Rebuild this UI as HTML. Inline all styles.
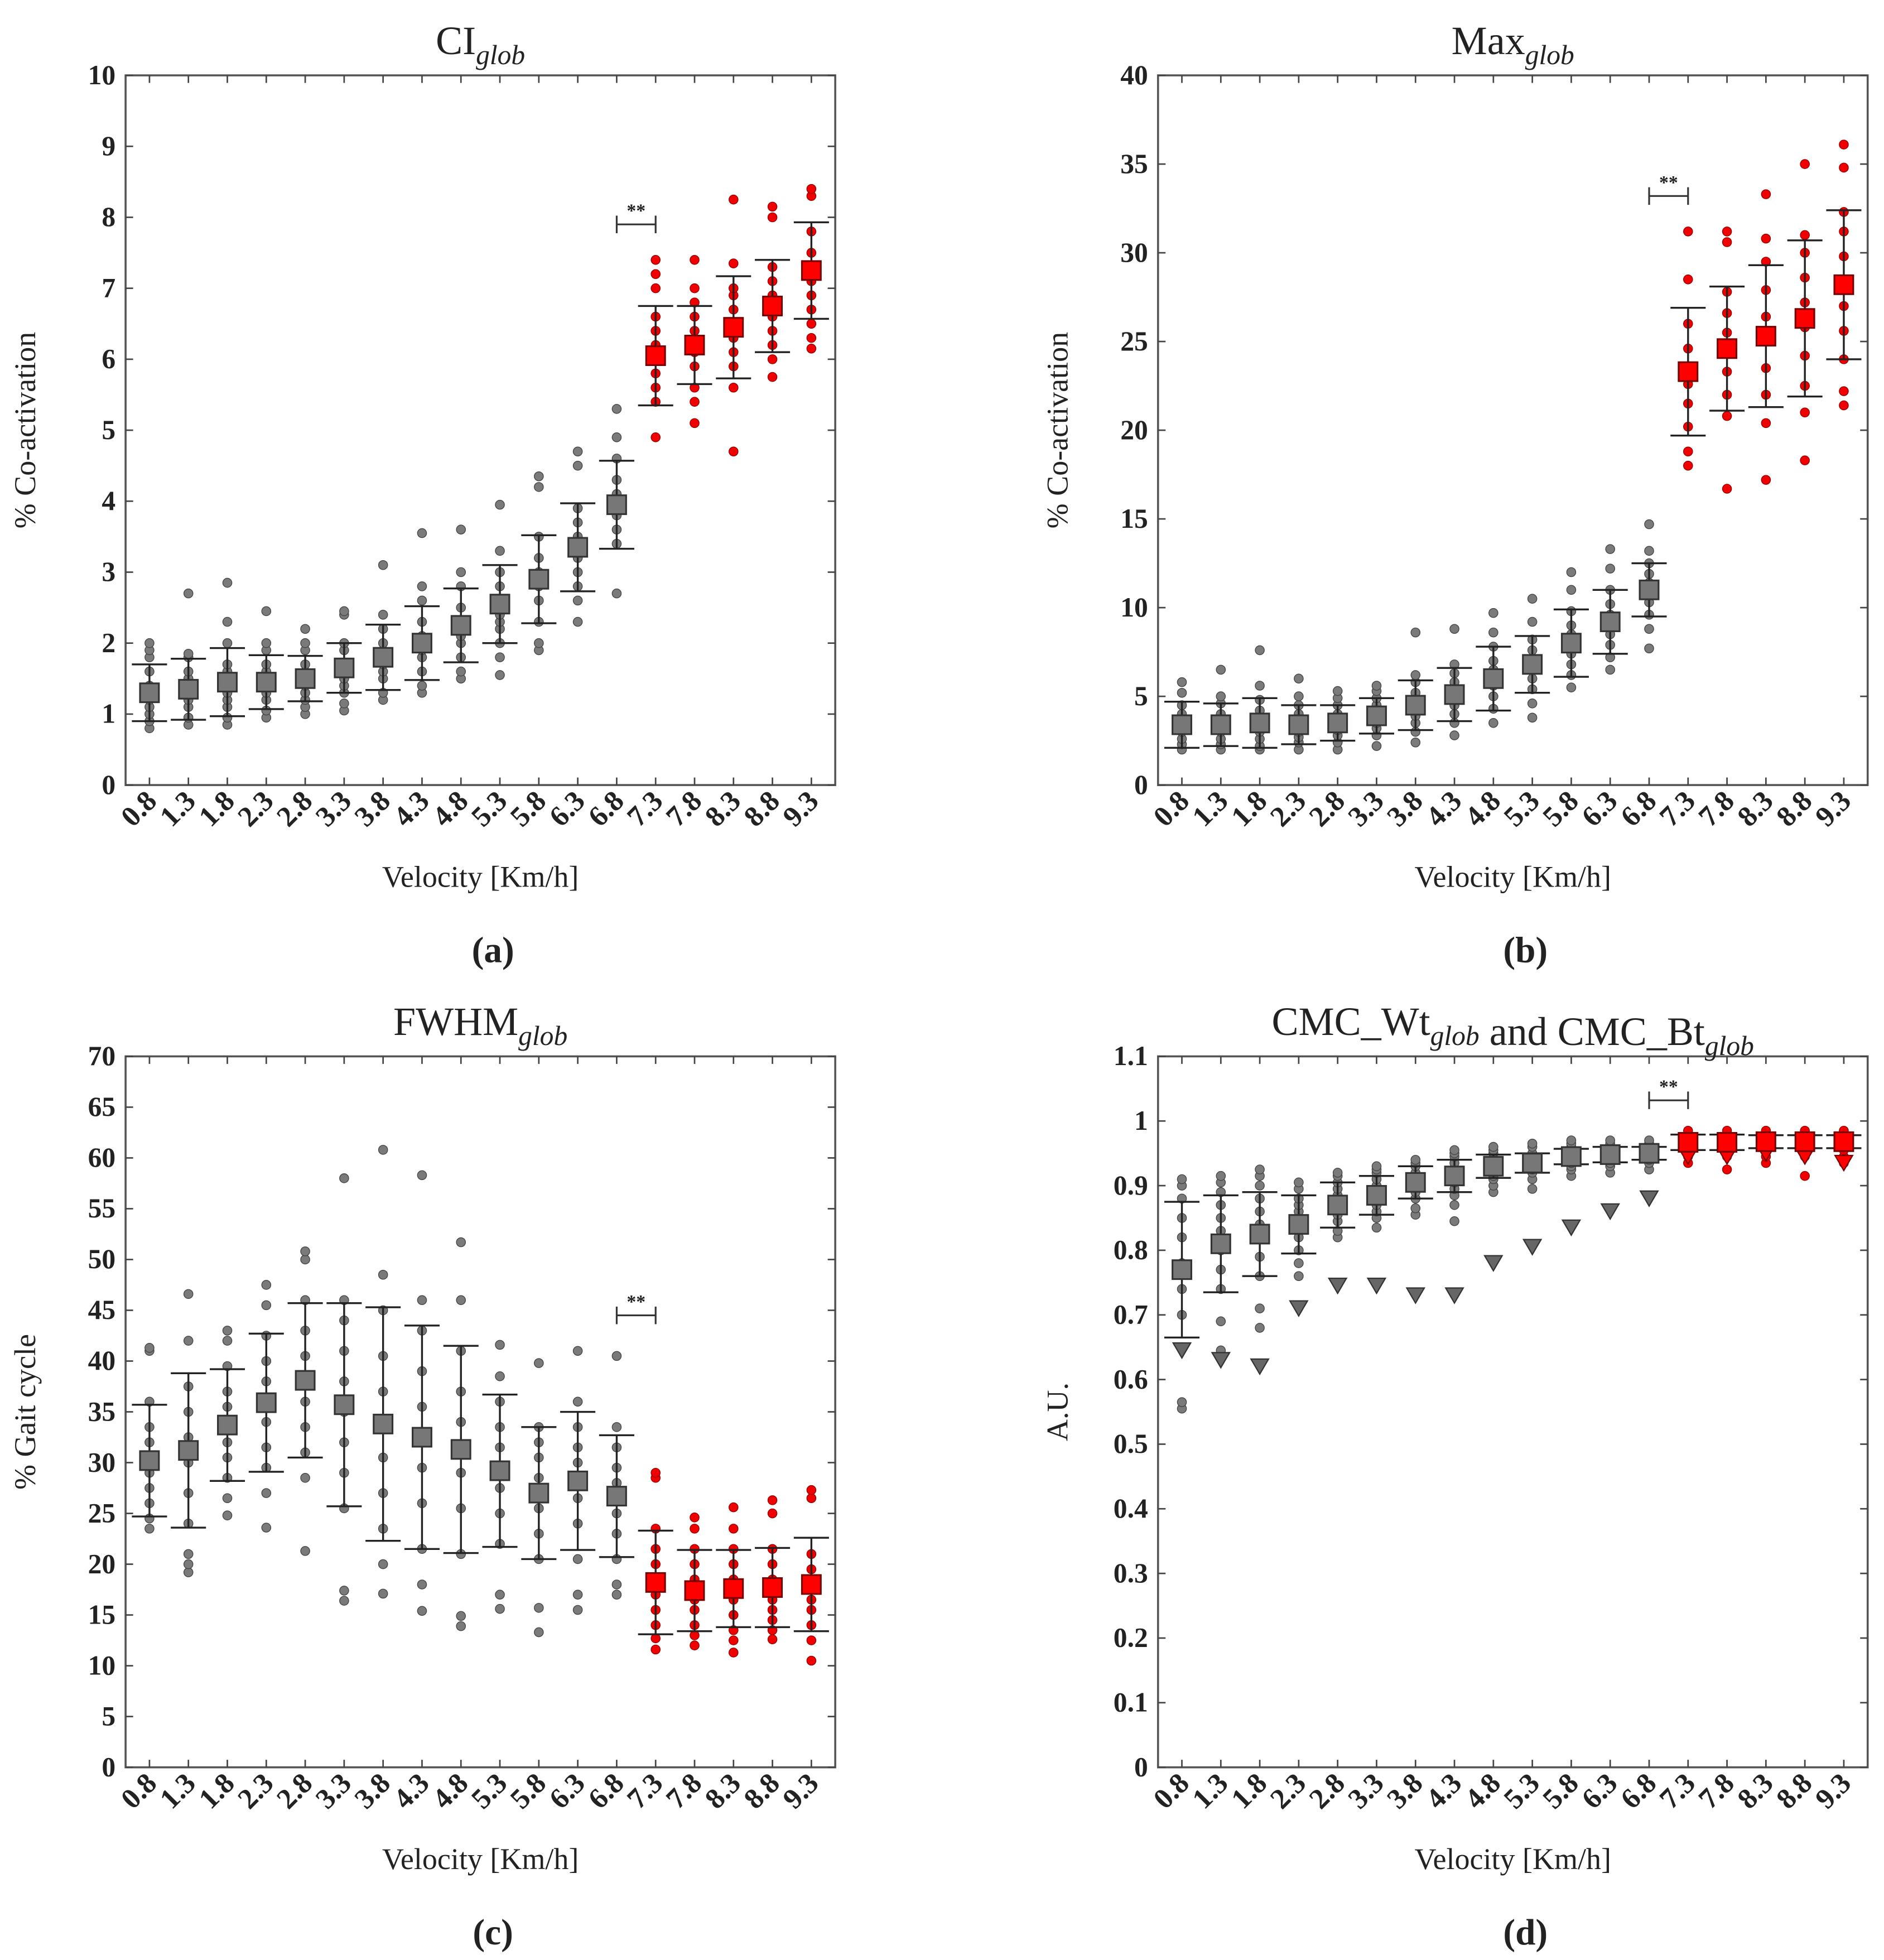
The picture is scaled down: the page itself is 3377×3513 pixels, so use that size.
<!DOCTYPE html>
<html><head><meta charset="utf-8"><style>html,body{margin:0;padding:0;background:#fff}svg{display:block}text{font-family:"Liberation Serif",serif;fill:#222}</style></head>
<body>
<svg id="fig" xmlns="http://www.w3.org/2000/svg" width="3377" height="3513" viewBox="0 0 1500 1560.4" preserveAspectRatio="none"></svg>
<script>
const cats=["0.8","1.3","1.8","2.3","2.8","3.3","3.8","4.3","4.8","5.3","5.8","6.3","6.8","7.3","7.8","8.3","8.8","9.3"];
const aMean=[1.3,1.35,1.45,1.45,1.5,1.65,1.8,2.0,2.25,2.55,2.9,3.35,3.95,6.05,6.2,6.45,6.75,7.25];
const aSd=[0.4,0.43,0.48,0.38,0.32,0.35,0.46,0.52,0.52,0.55,0.62,0.62,0.62,0.7,0.55,0.72,0.65,0.68];
const aPts=[[0.8,0.9,1.0,1.1,1.2,1.3,1.4,1.6,1.8,1.9,2.0],[0.85,0.95,1.1,1.2,1.3,1.4,1.5,1.6,1.8,1.85,2.7],[0.85,0.95,1.1,1.2,1.3,1.4,1.6,1.7,2.0,2.3,2.85],[0.95,1.05,1.2,1.3,1.4,1.5,1.6,1.7,1.9,2.0,2.45],[1.0,1.1,1.2,1.3,1.4,1.5,1.6,1.7,1.9,2.0,2.2],[1.05,1.15,1.3,1.4,1.5,1.6,1.7,1.9,2.0,2.4,2.45],[1.2,1.3,1.5,1.6,1.7,1.8,1.9,2.0,2.2,2.4,3.1],[1.3,1.4,1.6,1.8,1.9,2.0,2.1,2.3,2.6,2.8,3.55],[1.5,1.6,1.8,2.0,2.1,2.2,2.3,2.5,2.8,3.0,3.6],[1.55,1.8,2.0,2.2,2.3,2.4,2.6,2.8,3.0,3.3,3.95],[1.9,2.0,2.3,2.6,2.8,2.9,3.0,3.2,3.5,4.2,4.35],[2.3,2.6,2.8,3.0,3.2,3.3,3.5,3.7,3.9,4.5,4.7],[2.7,3.4,3.6,3.8,3.9,4.0,4.1,4.3,4.6,4.9,5.3],[4.9,5.4,5.6,5.8,6.0,6.2,6.4,6.6,7.0,7.2,7.4],[5.1,5.4,5.6,5.9,6.1,6.2,6.4,6.6,6.8,7.0,7.4],[4.7,5.6,5.9,6.1,6.3,6.5,6.7,6.9,7.0,7.35,8.25],[5.75,6.0,6.2,6.4,6.6,6.7,6.9,7.1,7.3,8.0,8.15],[6.15,6.3,6.5,6.7,6.9,7.1,7.3,7.5,7.8,8.3,8.4]];
const bMean=[3.4,3.4,3.5,3.4,3.5,3.9,4.5,5.1,6.0,6.8,8.0,9.2,11.0,23.3,24.6,25.3,26.3,28.2];
const bSd=[1.3,1.2,1.4,1.1,1.0,1.0,1.4,1.5,1.8,1.6,1.9,1.8,1.5,3.6,3.5,4.0,4.4,4.2];
const bPts=[[2.0,2.3,2.6,3.0,3.3,3.6,4.0,4.5,5.2,5.8],[2.0,2.3,2.6,3.0,3.3,3.6,4.0,4.6,5.0,6.5],[2.0,2.2,2.6,3.0,3.4,3.8,4.2,4.8,5.6,7.6],[2.0,2.4,2.7,3.0,3.3,3.6,4.0,4.5,5.0,6.0],[2.0,2.4,2.8,3.1,3.4,3.7,4.0,4.5,4.9,5.3],[2.2,2.8,3.2,3.5,3.8,4.1,4.5,4.9,5.3,5.6],[2.4,3.0,3.5,3.9,4.3,4.7,5.2,5.8,6.2,8.6],[2.8,3.5,4.0,4.5,5.0,5.4,5.8,6.3,6.8,8.8],[3.5,4.3,5.0,5.6,6.0,6.5,7.0,7.8,8.6,9.7],[3.8,4.6,5.4,6.0,6.6,7.1,7.6,8.2,9.2,10.5],[5.5,6.2,6.8,7.4,8.0,8.5,9.0,9.8,11.0,12.0],[6.5,7.2,7.9,8.5,9.0,9.6,10.2,11.0,12.2,13.3],[7.7,8.8,9.6,10.3,10.9,11.4,11.9,12.5,13.2,14.7],[18.0,18.8,20.2,21.5,22.6,23.5,24.6,26.0,28.5,31.2],[16.7,20.8,22.0,23.3,24.4,25.5,26.6,27.8,30.6,31.2],[17.2,20.4,22.0,23.5,25.0,26.4,27.9,29.5,30.8,33.3],[18.3,21.0,22.5,24.2,25.8,27.2,28.6,30.0,31.0,35.0],[21.4,22.2,24.0,25.6,27.0,28.4,29.8,31.2,32.3,34.8,36.1]];
const cMean=[30.2,31.2,33.7,35.9,38.1,35.7,33.8,32.5,31.3,29.2,27.0,28.2,26.7,18.2,17.4,17.6,17.7,18.0];
const cSd=[5.5,7.6,5.5,6.8,7.6,10,11.5,11,10.2,7.5,6.5,6.8,6.0,5.1,4.0,3.8,3.9,4.6];
const cPts=[[23.5,24.5,26,27.5,29,30.5,32,33.5,36,41,41.3],[19.2,20,21,24,27,30,32.5,35,37.5,42,46.6],[24.8,26.5,28.5,30.5,32,34,35.5,37,39.5,42,43],[23.6,27,29.5,31.5,34,36,38,40,42.5,45.5,47.5],[21.3,28.5,31,33.5,36,38,40.5,43,46,50,50.8],[16.4,17.4,25.5,29,32,35,38,41,44,46,58],[17.1,20,23.5,27,30.5,33.5,37,40.5,45,48.5,60.8],[15.4,18,21.5,26,29.5,32.5,35.5,39,43,46,58.3],[13.9,14.9,21,25.5,29,31.5,34,37,41,46,51.7],[15.6,17,22,25,27.5,29.5,31.5,33.5,36,38.5,41.6],[13.3,15.7,20.5,23,25.5,27,28.5,30.5,32,33.5,39.8],[15.5,17,20.5,24,26.5,28.5,30,31.5,33.5,36,41],[17,18,20.5,23,25,26.5,28,29.5,31.5,33.5,40.5],[11.6,12.7,14,15.5,17,18.5,20,21.5,23.5,28.5,29],[12,13,14,15.5,16.5,17.5,18.5,20,21.5,23.5,24.6],[11.3,12.5,13.5,15,16.5,17.5,18.5,20,21.5,23.5,25.6],[12.6,13.5,14.5,15.5,16.5,17.5,18.5,20,21.5,25,26.3],[10.5,12.5,14,15.5,16.5,17.5,18.5,19.5,21,26.5,27.3]];
const dMean=[0.77,0.81,0.825,0.84,0.87,0.885,0.905,0.915,0.93,0.935,0.945,0.948,0.95,0.967,0.967,0.968,0.968,0.968];
const dSd=[0.105,0.075,0.065,0.045,0.035,0.03,0.025,0.025,0.018,0.015,0.012,0.012,0.01,0.012,0.012,0.01,0.01,0.01];
const dTri=[0.645,0.63,0.62,0.71,0.745,0.745,0.73,0.73,0.78,0.805,0.835,0.86,0.88,0.945,0.945,0.95,0.945,0.935];
const dPts=[[0.555,0.565,0.65,0.7,0.74,0.78,0.82,0.85,0.88,0.9,0.91],[0.645,0.69,0.74,0.77,0.8,0.83,0.85,0.87,0.89,0.905,0.915],[0.68,0.71,0.76,0.79,0.82,0.84,0.86,0.88,0.9,0.915,0.925],[0.76,0.78,0.8,0.82,0.84,0.85,0.86,0.87,0.88,0.895,0.905],[0.82,0.83,0.845,0.855,0.865,0.875,0.885,0.895,0.905,0.915,0.92],[0.835,0.85,0.86,0.87,0.88,0.89,0.9,0.91,0.92,0.925,0.93],[0.855,0.865,0.88,0.89,0.9,0.905,0.91,0.92,0.93,0.935,0.94],[0.845,0.87,0.885,0.895,0.905,0.915,0.925,0.935,0.945,0.95,0.955],[0.89,0.9,0.91,0.915,0.925,0.93,0.935,0.94,0.95,0.955,0.96],[0.895,0.91,0.92,0.925,0.93,0.935,0.94,0.945,0.95,0.96,0.965],[0.915,0.925,0.93,0.935,0.94,0.945,0.95,0.955,0.96,0.965,0.97],[0.92,0.93,0.935,0.94,0.945,0.95,0.955,0.96,0.965,0.97],[0.925,0.935,0.94,0.945,0.95,0.955,0.96,0.965,0.97],[0.935,0.945,0.955,0.96,0.965,0.97,0.975,0.98,0.985],[0.925,0.945,0.955,0.96,0.965,0.97,0.975,0.98,0.985],[0.935,0.945,0.955,0.96,0.965,0.97,0.975,0.98,0.985],[0.915,0.945,0.955,0.96,0.965,0.97,0.975,0.98,0.985],[0.935,0.945,0.955,0.96,0.965,0.97,0.975,0.98,0.985]];

const NS="http://www.w3.org/2000/svg";
const svg=document.getElementById('fig');
function mk(tag,attrs,parent){const e=document.createElementNS(NS,tag);for(const k in attrs)e.setAttribute(k,attrs[k]);(parent||svg).appendChild(e);return e;}

function panel(o){
  const g=mk('g',{});
  
  
  const x0=o.x0,y0=o.y0,w=565,h=o.h;
  const pad=19,step=(w-2*pad)/(cats.length-1);
  const X=i=>x0+pad+i*step;
  const Y=v=>y0+h-(v/o.ymax)*h;
  const fr=mk('rect',{x:x0,y:y0,width:w,height:h,fill:'none',stroke:'#555','stroke-width':1.6},g);
  
  
  for(let v=0;v<=o.ymax+1e-9;v+=o.ystep){
    const y=Y(v);
    mk('line',{x1:x0,x2:x0+6,y1:y,y2:y,stroke:'#444','stroke-width':1.2},g);
    mk('line',{x1:x0+w,x2:x0+w-6,y1:y,y2:y,stroke:'#444','stroke-width':1.2},g);
    const t=mk('text',{x:x0-8,y:y+7,'text-anchor':'end','font-size':22,'font-weight':'bold'},g);
    t.textContent=o.fmt?o.fmt(v):String(Math.round(v));
    
    
  }
  cats.forEach((c,i)=>{
    const x=X(i);
    mk('line',{x1:x,x2:x,y1:y0+h,y2:y0+h-6,stroke:'#444','stroke-width':1.2},g);
    mk('line',{x1:x,x2:x,y1:y0,y2:y0+6,stroke:'#444','stroke-width':1.2},g);
    const t=mk('text',{x:x+7,y:y0+h+14,'text-anchor':'end','font-size':23,'font-weight':'bold',transform:`rotate(-45 ${x+7} ${y0+h+14})`},g);
    t.textContent=c;
    
    
  });
  cats.forEach((c,i)=>{
    const red=i>=13, x=X(i);
    const fill=red?'#ff0000':'#777', fillD=red?'#f00000':'#7a7a7a', edge=red?'#700':'#333';
    o.pts[i].forEach(v=>{
      const d=mk('circle',{cx:x,cy:Y(v),r:3.6,fill:fillD,stroke:red?'#900':'#444','stroke-width':0.6},g);
      
      
    });
    const m=o.mean[i],s=o.sd[i];
    const eb=mk('path',{d:`M${x},${Y(m+s)}V${Y(m-s)}M${x-14},${Y(m+s)}H${x+14}M${x-14},${Y(m-s)}H${x+14}`,stroke:'#222','stroke-width':1.5,fill:'none'},g);
    
    
    if(o.tri){
      const ty=Y(o.tri[i]);
      const tr=mk('path',{d:`M${x-7},${ty-6}H${x+7}L${x},${ty+6}Z`,fill:red?'#ff0000':'#666',stroke:edge,'stroke-width':1},g);
      
      
    }
    const sq=mk('rect',{x:x-7.5,y:Y(m)-7.5,width:15,height:15,fill:fill,stroke:edge,'stroke-width':1.4},g);
    
    
  });
  const by=Y(o.sig),xa=X(12),xb=X(13);
  const br=mk('path',{d:`M${xa},${by-7}V${by+7}M${xa},${by}H${xb}M${xb},${by-7}V${by+7}`,stroke:'#333','stroke-width':1.4,fill:'none'},g);
  
  
  const st=mk('text',{x:(xa+xb)/2,y:by-6,'text-anchor':'middle','font-size':15,'font-weight':'bold'},g);
  st.textContent='**';
  
  
  const tt=mk('text',{x:x0+w/2,y:y0-17,'text-anchor':'middle','font-size':32},g);
  tt.innerHTML=o.title;
  
  
  const yl=mk('text',{x:0,y:0,'text-anchor':'middle','font-size':24,transform:`translate(${x0-72},${y0+h/2}) rotate(-90)`},g);
  yl.textContent=o.ylabel;
  
  
  const xl=mk('text',{x:x0+w/2,y:y0+h+81,'text-anchor':'middle','font-size':24},g);
  xl.textContent='Velocity [Km/h]';
  
  
  const pl=mk('text',{x:x0+w/2+10,y:y0+h+141,'text-anchor':'middle','font-size':29,'font-weight':'bold'},g);
  pl.textContent=o.letter;
  
  
}
const sub=s=>`<tspan font-style="italic" font-size="22" dy="8">${s}</tspan><tspan dy="-8"></tspan>`;
panel({name:'panel-a-ci',x0:100,y0:60,h:565,ymax:10,ystep:1,mean:aMean,sd:aSd,pts:aPts,sig:7.9,title:'CI'+sub('glob'),ylabel:'% Co-activation',letter:'(a)'});
panel({name:'panel-b-max',x0:922,y0:60,h:565,ymax:40,ystep:5,mean:bMean,sd:bSd,pts:bPts,sig:33.2,title:'Max'+sub('glob'),ylabel:'% Co-activation',letter:'(b)'});
panel({name:'panel-c-fwhm',x0:100,y0:841,h:566,ymax:70,ystep:5,mean:cMean,sd:cSd,pts:cPts,sig:44.5,title:'FWHM'+sub('glob'),ylabel:'% Gait cycle',letter:'(c)'});
panel({name:'panel-d-cmc',x0:922,y0:841,h:566,ymax:1.1,ystep:0.1,mean:dMean,sd:dSd,pts:dPts,tri:dTri,sig:1.032,fmt:v=>{const r=Math.round(v*10)/10;return r===0?'0':r===1?'1':String(r);},title:'CMC_Wt'+sub('glob')+' and CMC_Bt'+sub('glob'),ylabel:'A.U.',letter:'(d)'});
</script>
</body></html>
